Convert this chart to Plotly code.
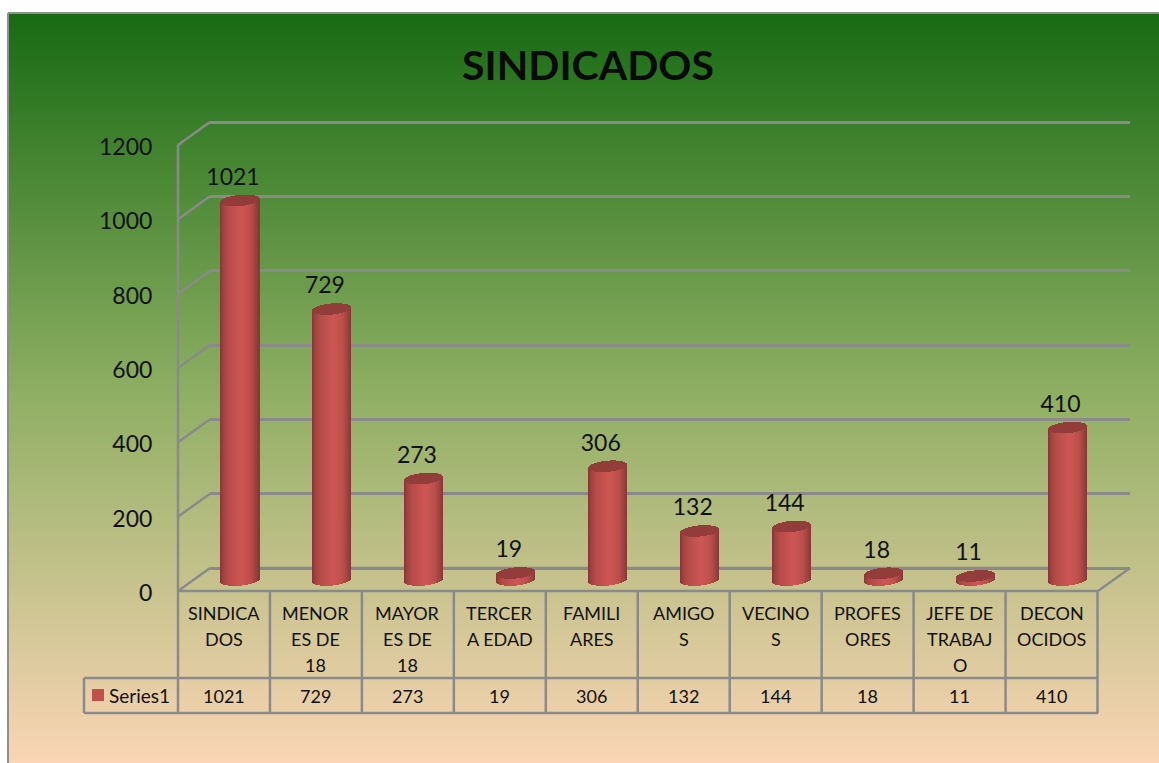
import math
import numpy as np
import plotly.graph_objects as go

# ---- data ----
TITLE = "SINDICADOS"
SERIES_NAME = "Series1"
categories = ["SINDICA<br>DOS", "MENOR<br>ES DE<br>18", "MAYOR<br>ES DE<br>18", "TERCER<br>A EDAD",
              "FAMILI<br>ARES", "AMIGO<br>S", "VECINO<br>S", "PROFES<br>ORES",
              "JEFE DE<br>TRABAJ<br>O", "DECON<br>OCIDOS"]
values = [1021, 729, 273, 19, 306, 132, 144, 18, 11, 410]
axis_ticks = [0, 200, 400, 600, 800, 1000, 1200]

# ---- style ----
W, H = 1159, 763
FONT = "Lato"
GRID = "#8a8a8a"
SWATCH = "#C0504D"
bg_stops = [[0, "#176A13"], [0.5, "#8DAE62"], [1, "#FBD5B5"]]
body_stops = [(0, (0x88, 0x38, 0x36)), (0.08, (0xA3, 0x43, 0x40)), (0.2, (0xB8, 0x4B, 0x49)),
              (0.55, (0xCE, 0x56, 0x55)), (0.8, (0xBC, 0x4D, 0x4B)), (0.93, (0x9E, 0x41, 0x3F)),
              (1, (0x88, 0x38, 0x36))]
TOP_COLOR = "rgba(146,60,58,0.995)"

PX_PER_VAL = 446 / 1200
STEP = 91.95
N = len(values)


def xdom(a, b):
    return [a / W, b / W]


def ydom(top, bottom):
    return [1 - bottom / H, 1 - top / H]


def body_color(t):
    for (t0, c0), (t1, c1) in zip(body_stops, body_stops[1:]):
        if t <= t1:
            f = (t - t0) / (t1 - t0)
            c = [c0[k] + f * (c1[k] - c0[k]) for k in range(3)]
            return "rgba(%d,%d,%d,0.995)" % tuple(c)
    return "rgba(136,56,54,0.995)"


fig = go.Figure()

# background gradient (first subplot, drawn first)
rows = np.arange(13.5, H, 1.0)
fig.add_trace(go.Heatmap(x=[8, W], y=rows, z=[[r, r] for r in rows], zmin=13, zmax=H,
                         colorscale=bg_stops, showscale=False, hoverinfo="skip",
                         xaxis="x", yaxis="y"))

# back wall grid: its own value axis
fig.add_trace(go.Scatter(x=[0, 9], y=[0, 0], mode="lines", line=dict(color=GRID, width=2.5),
                         hoverinfo="skip", showlegend=False, xaxis="x2", yaxis="y2"))

# frame, walls, floor and table lines on a pixel axis
lx, ly = [], []


def seg(x0, y0, x1, y1):
    lx.extend([x0, x1, None])
    ly.extend([y0, y1, None])


Y0_FRONT = 591
for v in axis_ticks:
    yf = Y0_FRONT - v * PX_PER_VAL
    seg(178, yf, 210, yf - 23)
seg(178, 591, 1098, 591)
seg(1098, 591, 1130, 568)
seg(178, 145, 178, 713)
seg(84, 678, 1098, 678)
seg(84, 713, 1098, 713)
seg(84, 678, 84, 713)
for i in range(1, N + 1):
    seg(178 + STEP * i, 591, 178 + STEP * i, 713)
fig.add_trace(go.Scatter(x=lx, y=ly, mode="lines", line=dict(color=GRID, width=2.5),
                         hoverinfo="skip", showlegend=False, xaxis="x3", yaxis="y3"))
fig.add_trace(go.Scatter(x=[8, 8, None, 8, W], y=[H, 13, None, 13, 13], mode="lines",
                         line=dict(color="#8f8f8f", width=2), hoverinfo="skip",
                         showlegend=False, xaxis="x3", yaxis="y3"))

# cylinders: one-pixel strips of bars, all built from the values
RX, RY, TILT = 19.5, 5.6, 0.085
BASE_PX = 580
xpos = list(range(N))
u = 1 / PX_PER_VAL
for d in range(39):
    dx = d - 19.5 + 0.5
    half = RY * math.sqrt(max(0, 1 - (dx / RX) ** 2))
    low = (-half + TILT * dx) * u       # lower arc, in value units
    high = (half + TILT * dx) * u       # upper arc, in value units
    common = dict(x=xpos, offset=(d - 19.5) / STEP, width=1.06 / STEP, hoverinfo="skip",
                  showlegend=False, xaxis="x4", yaxis="y4", marker_line_width=0)
    fig.add_trace(go.Bar(base=[low] * N, y=values, marker_color=body_color(d / 38), **common))
    fig.add_trace(go.Bar(base=[v + low for v in values], y=[high - low] * N,
                         marker_color=TOP_COLOR, **common))

# data labels above the cylinders
fig.add_trace(go.Scatter(x=[i - 7 / STEP for i in xpos], y=[v + 21.5 * u for v in values],
                         mode="text", text=[str(v) for v in values], textposition="middle center",
                         textfont=dict(family=FONT, size=23, color="#111111"),
                         hoverinfo="skip", showlegend=False, cliponaxis=False,
                         xaxis="x4", yaxis="y4"))

# front value axis carrying the tick labels
fig.add_trace(go.Scatter(x=[0], y=[0], mode="lines", hoverinfo="skip", showlegend=False,
                         xaxis="x5", yaxis="y5"))

# table text
ann = []
for i, cat in enumerate(categories):
    cx = 178 + STEP * (i + 0.5)
    for j, line in enumerate(cat.split("<br>")):
        ann.append(dict(x=cx, y=613 + 26 * j, text=line))
    ann.append(dict(x=cx, y=696, text=str(values[i])))
annotations = [dict(a, xref="x3", yref="y3", showarrow=False, xanchor="center", yanchor="middle",
                    font=dict(family=FONT, size=18, color="#111111")) for a in ann]
annotations.append(dict(x=139, y=695, text=SERIES_NAME, xref="x3", yref="y3", showarrow=False,
                        xanchor="center", yanchor="middle",
                        font=dict(family=FONT, size=19, color="#111111")))
annotations.append(dict(x=588, y=64, xref="x3", yref="y3", text="<b>%s</b>" % TITLE, showarrow=False,
                        xanchor="center", yanchor="middle",
                        font=dict(family=FONT, size=41, color="#0a0a0a")))

hidden = dict(visible=False, showgrid=False, zeroline=False, fixedrange=True)
ybar_bottom, ybar_top = 600, 100
GP = 12  # padding of the grid axis so its end lines are kept

fig.update_layout(
    width=W, height=H, margin=dict(l=0, r=0, t=0, b=0, pad=0, autoexpand=False),
    paper_bgcolor="white", plot_bgcolor="rgba(0,0,0,0)",
    showlegend=False, barmode="overlay", bargap=0, annotations=annotations,
    shapes=[dict(type="rect", xref="x3", yref="y3", x0=92, x1=104, y0=689, y1=701,
                 fillcolor=SWATCH, line_width=0, layer="above")],
    xaxis=dict(hidden, domain=xdom(8, W), range=[8, W], anchor="y"),
    yaxis=dict(hidden, domain=ydom(13, H), range=[H, 13], anchor="x"),
    xaxis2=dict(hidden, domain=xdom(210, 1130), range=[-0.5, 9.5], anchor="y2"),
    yaxis2=dict(domain=ydom(122 - GP, 568 + GP), range=[-GP * u, 1200 + GP * u], tickvals=axis_ticks,
                anchor="x2", showgrid=True, gridcolor=GRID, gridwidth=2.5, zeroline=False,
                showticklabels=False, ticks="", showline=False, fixedrange=True),
    xaxis3=dict(hidden, domain=[0, 1], range=[0, W], anchor="y3"),
    yaxis3=dict(hidden, domain=[0, 1], range=[H, 0], anchor="x3"),
    xaxis4=dict(hidden, domain=xdom(240 - STEP / 2, 240 + STEP * 9.5), range=[-0.5, 9.5], anchor="y4"),
    yaxis4=dict(hidden, domain=ydom(ybar_top, ybar_bottom),
                range=[(BASE_PX - ybar_bottom) * u, (BASE_PX - ybar_top) * u], anchor="x4"),
    xaxis5=dict(hidden, domain=xdom(178, 1098), range=[-0.5, 9.5], anchor="y5"),
    yaxis5=dict(domain=ydom(147, 593), range=[0, 1200], tickvals=axis_ticks, anchor="x5",
                ticktext=[str(t) for t in axis_ticks], showgrid=False, zeroline=False,
                showline=False, ticks="outside", ticklen=20, tickcolor="rgba(0,0,0,0)",
                tickfont=dict(family=FONT, size=23, color="#111111"), fixedrange=True),
)

fig.write_html("out.html", config={"displayModeBar": False},
               post_script="document.body.style.margin='0';document.body.style.overflow='hidden';")
